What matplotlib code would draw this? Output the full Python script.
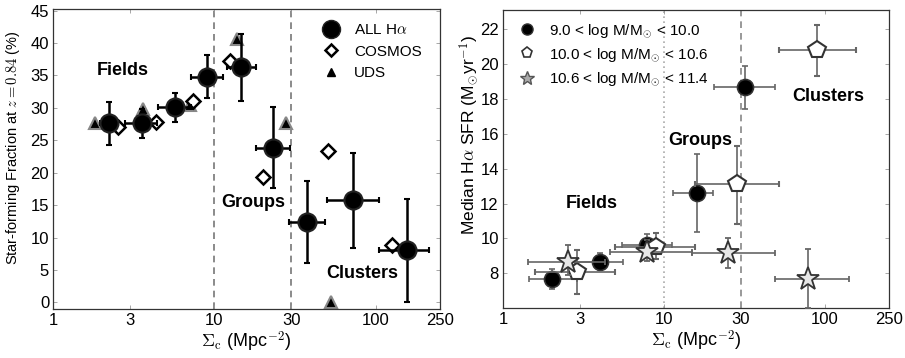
import matplotlib
matplotlib.use("Agg")
import matplotlib.pyplot as plt
import numpy as np
from matplotlib.lines import Line2D

plt.rcParams['font.family'] = ['Liberation Sans', 'DejaVu Sans']
plt.rcParams['mathtext.fontset'] = 'cm'

# ---------------- Left panel data ----------------
all_x = [2.21, 3.53, 5.68, 9.02, 14.6, 23.1, 37.3, 72.5, 156.7]
all_y = [27.7, 27.6, 30.1, 34.8, 36.3, 23.8, 12.4, 15.8, 8.1]
all_ylo = [24.3, 25.4, 27.8, 31.5, 31.0, 17.6, 6.1, 8.4, 0.0]
all_yhi = [30.9, 29.8, 32.3, 38.2, 41.4, 30.1, 18.7, 23.0, 16.0]
all_xlo = [1.95, 2.78, 4.48, 7.2, 11.9, 18.0, 28.9, 50.1, 105]
all_xhi = [2.5, 4.4, 7.2, 11.3, 18.0, 29.4, 48.4, 105, 213]

cosmos_x = [2.53, 4.33, 7.38, 12.5, 20.0, 50.7, 125.4]
cosmos_y = [27.0, 27.9, 31.0, 37.2, 19.4, 23.4, 8.9]

uds_x = [1.81, 3.6, 7.0, 13.8, 27.6, 52.7]
uds_y = [27.6, 29.8, 30.4, 40.6, 27.6, 0.0]

# ---------------- Right panel data ----------------
lo_x = [2.03, 4.0, 7.85, 16.0, 31.9]
lo_y = [7.66, 8.66, 9.62, 12.6, 18.68]
lo_ylo = [7.08, 8.2, 9.2, 10.35, 17.4]
lo_yhi = [8.23, 9.15, 10.25, 14.85, 19.9]
lo_xlo = [1.45, 2.8, 5.5, 11.3, 20.4]
lo_xhi = [2.9, 5.6, 11.2, 20.1, 48.9]

mid_x = [2.87, 8.96, 28.3, 88.8]
mid_y = [8.09, 9.52, 13.15, 20.8]
mid_ylo = [6.81, 8.8, 10.85, 19.3]
mid_yhi = [9.33, 10.29, 15.3, 22.25]
mid_xlo = [1.58, 4.97, 15.6, 51.5]
mid_xhi = [4.97, 15.6, 51.5, 156]

hi_x = [2.52, 7.85, 25.1, 78.9]
hi_y = [8.66, 9.24, 9.15, 7.7]
hi_ylo = [7.9, 8.7, 8.3, 6.0]
hi_yhi = [9.62, 9.9, 10.0, 9.4]
hi_xlo = [1.42, 4.6, 14.9, 48.9]
hi_xhi = [4.3, 15.0, 48.9, 142]

xticks = [1, 3, 10, 30, 100, 250]
xticklabels = ['1', '3', '10', '30', '100', '250']

fig = plt.figure(figsize=(9.05, 3.58), dpi=100)
axL = fig.add_axes([0.0589, 0.137, 0.4271, 0.837])
axR = fig.add_axes([0.5558, 0.139, 0.4265, 0.833])


def errs(v, lo, hi):
    v = np.array(v); lo = np.array(lo); hi = np.array(hi)
    return np.vstack([v - lo, hi - v])


for ax in (axL, axR):
    ax.set_xscale('log')
    ax.set_xlim(1, 250)
    ax.set_xticks(xticks)
    ax.set_xticklabels(xticklabels)
    ax.minorticks_off()
    ax.tick_params(direction='in', length=3, width=0.6, top=True, right=True,
                   labelsize=12, colors='#999999', labelcolor='black', pad=3)
    for s in ax.spines.values():
        s.set_linewidth(0.9)
        s.set_color('#333333')
    ax.set_xlabel(r'$\Sigma_{\rm c}$ (Mpc$^{-2}$)', fontsize=13, labelpad=1)

# ---------------- Left ----------------
axL.set_ylim(-1, 45.2)
axL.set_yticks(np.arange(0, 46, 5))
axL.axvline(10, color='#777777', ls=(0, (4, 3)), lw=1.2, zorder=1)
axL.axvline(30, color='#777777', ls=(0, (4, 3)), lw=1.2, zorder=1)

axL.plot(uds_x, uds_y, ls='none', marker='^', ms=8, mfc='black', mec='#888888',
         mew=1.5, zorder=2)
axL.plot(cosmos_x, cosmos_y, ls='none', marker='D', ms=7.5, mfc='white', mec='black',
         mew=1.8, zorder=3)
axL.errorbar(all_x, all_y, yerr=errs(all_y, all_ylo, all_yhi),
             xerr=errs(all_x, all_xlo, all_xhi), fmt='o', ms=13, mfc='black',
             mec='#222222', mew=1.5, ecolor='black', elinewidth=1.8, capsize=2.5,
             capthick=1.8, zorder=4)

axL.text(2.71, 35.8, 'Fields', fontsize=13, fontweight='bold', ha='center', va='center')
axL.text(17.3, 15.4, 'Groups', fontsize=13, fontweight='bold', ha='center', va='center')
axL.text(82, 4.4, 'Clusters', fontsize=13, fontweight='bold', ha='center', va='center')

axL.set_ylabel(r'Star-forming Fraction at $z=0.84$ (%)', fontsize=10.5)
axL.yaxis.set_label_coords(-0.08, 0.54)

hL = [Line2D([], [], ls='none', marker='o', ms=13, mfc='black', mec='#222222'),
      Line2D([], [], ls='none', marker='D', ms=6.5, mfc='white', mec='black', mew=1.8),
      Line2D([], [], ls='none', marker='^', ms=6, mfc='black', mec='black')]
axL.legend(hL, [r'ALL H$\alpha$', 'COSMOS', 'UDS'], loc='upper left',
           bbox_to_anchor=(0.672, 0.975), frameon=False,
           fontsize=11, handletextpad=0.7, labelspacing=0.5,
           borderaxespad=0.0, handlelength=1.6)

# ---------------- Right ----------------
axR.set_ylim(6, 23.1)
axR.set_yticks(np.arange(8, 23, 2))
axR.axvline(10, color='#aaaaaa', ls=(0, (1, 2)), lw=1.2, zorder=1)
axR.axvline(30, color='#888888', ls=(0, (4, 3)), lw=1.2, zorder=1)

ekw = dict(ecolor='#666666', elinewidth=1.2, capsize=2.5, capthick=1.2)
axR.errorbar(lo_x, lo_y, yerr=errs(lo_y, lo_ylo, lo_yhi),
             xerr=errs(lo_x, lo_xlo, lo_xhi), fmt='o', ms=11.5, mfc='black',
             mec='#333333', mew=1.2, zorder=3, **ekw)
axR.errorbar(mid_x, mid_y, yerr=errs(mid_y, mid_ylo, mid_yhi),
             xerr=errs(mid_x, mid_xlo, mid_xhi), fmt='p', ms=13, mfc='white',
             mec='#333333', mew=1.5, zorder=4, **ekw)
axR.errorbar(hi_x, hi_y, yerr=errs(hi_y, hi_ylo, hi_yhi),
             xerr=errs(hi_x, hi_xlo, hi_xhi), fmt='*', ms=17, mfc='#e6e6e6',
             mec='#333333', mew=1.3, zorder=5, **ekw)

axR.text(3.56, 12.0, 'Fields', fontsize=13, fontweight='bold', ha='center', va='center')
axR.text(16.7, 15.64, 'Groups', fontsize=13, fontweight='bold', ha='center', va='center')
axR.text(105, 18.12, 'Clusters', fontsize=13, fontweight='bold', ha='center', va='center')

axR.set_ylabel(r'Median H$\alpha$ SFR (M$_{\odot}$yr$^{-1}$)', fontsize=12.5)
axR.yaxis.set_label_coords(-0.058, 0.58)

hR = [Line2D([], [], ls='none', marker='o', ms=8, mfc='black', mec='#333333'),
      Line2D([], [], ls='none', marker='p', ms=8, mfc='white', mec='#333333', mew=1.2),
      Line2D([], [], ls='none', marker='*', ms=10, mfc='#aaaaaa', mec='#555555')]
axR.legend(hR, [r'9.0 < log M/M$_{\odot}$ < 10.0', r'10.0 < log M/M$_{\odot}$ < 10.6',
                r'10.6 < log M/M$_{\odot}$ < 11.4'],
           loc='upper left', bbox_to_anchor=(0.0225, 0.98), frameon=False,
           fontsize=11, handletextpad=0.86, labelspacing=0.45,
           borderaxespad=0.0, handlelength=1.2)

fig.savefig('out.png', dpi=100)
